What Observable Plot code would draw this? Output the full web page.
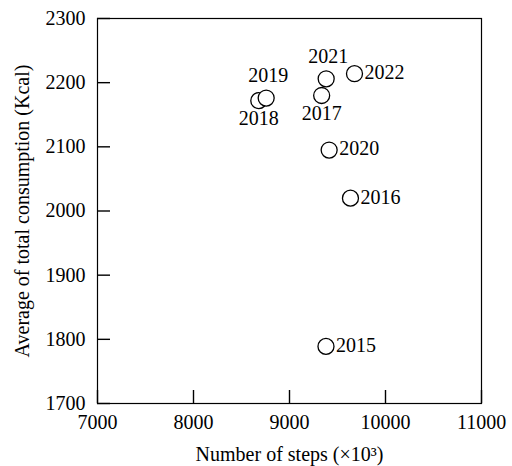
<!DOCTYPE html>
<html>
<head>
<meta charset="utf-8">
<script src="https://cdn.jsdelivr.net/npm/d3@7"></script>
<script src="https://cdn.jsdelivr.net/npm/@observablehq/plot@0.6"></script>
<style>
  html, body { margin: 0; padding: 0; background: #fff; }
  svg { font-family: "Liberation Serif", "Times New Roman", serif; }
</style>
</head>
<body>
<div id="chart"></div>
<script>
const years = [2015, 2016, 2017, 2018, 2019, 2020, 2021, 2022];
const steps = [9380, 9635, 9335, 8680, 8757, 9413, 9382, 9677];
const kcal  = [1789, 2020, 2180, 2172, 2176, 2095, 2206, 2214];
const labelSide = ["right", "right", "below", "below", "above", "right", "above", "right"];
const xTicks = [7000, 8000, 9000, 10000, 11000];
const yTicks = [1700, 1800, 1900, 2000, 2100, 2200, 2300];

const data = years.map((y, i) => ({year: y, steps: steps[i], kcal: kcal[i], side: labelSide[i]}));
const font = "Liberation Serif";
const fs = 20;
const W = 512, H = 466, mL = 97, mR = 31, mT = 18, mB = 63;
const tickLen = 13;

const chart = Plot.plot({
  width: W,
  height: H,
  marginLeft: mL,
  marginRight: mR,
  marginTop: mT,
  marginBottom: mB,
  style: {fontFamily: font, fontSize: fs + "px", color: "#000", background: "#fff"},
  x: {domain: [7000, 11000]},
  y: {domain: [1700, 2300]},
  marks: [
    Plot.axisX(xTicks, {tickSize: 0, tickPadding: 11, tickFormat: d => String(d), fontSize: fs,
      label: "Number of steps (×10³)", labelAnchor: "center", labelOffset: 57, labelArrow: "none"}),
    Plot.axisY(yTicks, {tickSize: 0, tickPadding: 12, tickFormat: d => String(d), fontSize: fs,
      label: "Average of total consumption (Kcal)", labelAnchor: "center", labelOffset: 83, labelArrow: "none"}),
    Plot.tickX(xTicks, {x: d => d, stroke: "#000", strokeWidth: 1.4, insetTop: (H - mT - mB) - tickLen}),
    Plot.tickY(yTicks, {y: d => d, stroke: "#000", strokeWidth: 1.4, insetRight: (W - mL - mR) - tickLen}),
    Plot.frame({stroke: "#000", strokeWidth: 1.2}),
    Plot.dot(data, {x: "steps", y: "kcal", r: 8, stroke: "#000", fill: "#fff", strokeWidth: 1.3}),
    Plot.text(data.filter(d => d.side === "right"), {x: "steps", y: "kcal", text: d => String(d.year), textAnchor: "start", dx: 10, dy: -1, fontSize: fs, fill: "#000"}),
    Plot.text(data.filter(d => d.side === "above"), {x: "steps", y: "kcal", text: d => String(d.year), dy: -22, dx: 2, fontSize: fs, fill: "#000"}),
    Plot.text(data.filter(d => d.side === "below"), {x: "steps", y: "kcal", text: d => String(d.year), dy: 18, fontSize: fs, fill: "#000"})
  ]
});
document.getElementById("chart").appendChild(chart);
</script>
</body>
</html>
